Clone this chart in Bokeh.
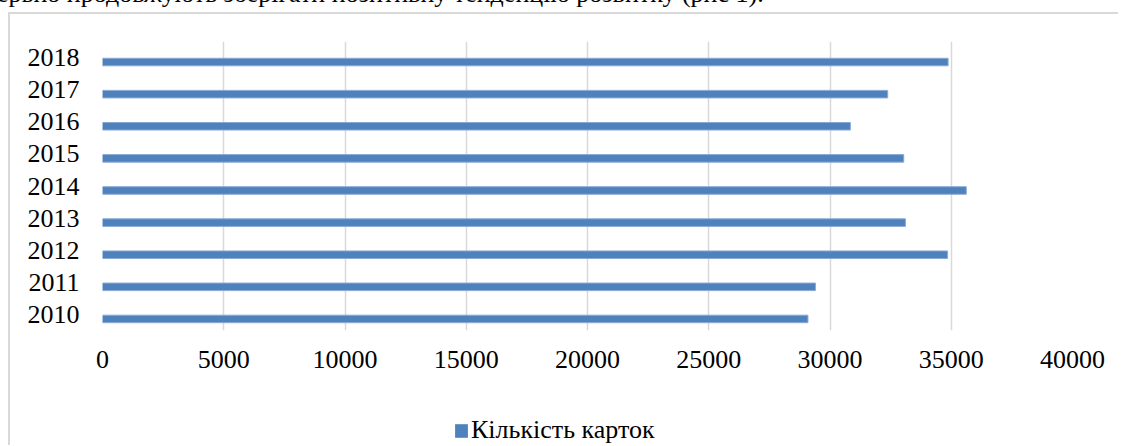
from bokeh.plotting import figure
from bokeh.layouts import column
from bokeh.models import (ColumnDataSource, Legend, LegendItem, FactorRange, Div,
                          Range1d, FixedTicker, NumeralTickFormatter)
from bokeh.transform import dodge
from bokeh.embed import file_html
from bokeh.resources import INLINE

# ---- data ----
years = ["2010", "2011", "2012", "2013", "2014", "2015", "2016", "2017", "2018"]
cards = [29090, 29400, 34850, 33110, 35620, 33040, 30840, 32380, 34870]
x_ticks = [0, 5000, 10000, 15000, 20000, 25000, 30000, 35000, 40000]
series_name = "Кількість карток"
intro_text = "ерьно продовжують зберігати позитивну тенденцію розвитку (рис 1)."

FONT = "Liberation Serif"
BAR = "#4f81bd"
BAR_EDGE = "#8aaad4"
GRID = "#d9d9d9"
W = 1118

# clipped line of the surrounding document text (only its lower part is visible)
top_div = Div(
    text=('<div style="font-family:\'Liberation Serif\';font-size:26px;line-height:30px;'
          'white-space:nowrap;position:relative;top:-21px;left:-3px;color:#000;">'
          + intro_text + '</div>'),
    width=W, height=12, margin=(0, 0, 0, 0),
    styles={"overflow": "hidden", "height": "12px"},
)

src = ColumnDataSource(data=dict(year=years, cards=cards))

p = figure(width=W, height=371,
           y_range=FactorRange(*years), x_range=Range1d(0, 40000),
           output_backend="svg", toolbar_location=None,
           min_border_left=102, min_border_right=W - 102 - 970,
           min_border_top=29, min_border_bottom=53)
p.margin = (0, 0, 0, 0)
p.styles = {
    "background": ("linear-gradient(#d9d9d9,#d9d9d9) 8px 0px / 2px 100% no-repeat, "
                   "linear-gradient(#d9d9d9,#d9d9d9) 8px 0px / 100% 2px no-repeat, #ffffff"),
}
p.border_fill_color = None
p.background_fill_color = None
p.outline_line_color = None

r = p.hbar(y=dodge("year", -0.14, range=p.y_range), left=0, right="cards",
           height=0.235, source=src, fill_color=BAR, line_color=BAR_EDGE, line_width=1)

# axes
p.xaxis.ticker = FixedTicker(ticks=x_ticks)
p.xaxis.formatter = NumeralTickFormatter(format="0")
for ax in (p.xaxis[0], p.yaxis[0]):
    ax.axis_line_color = None
    ax.major_tick_line_color = None
    ax.minor_tick_line_color = None
    ax.major_tick_out = 0
    ax.major_tick_in = 0
    ax.major_label_text_font = FONT
    ax.major_label_text_font_size = "26px"
    ax.major_label_text_color = "#000000"
p.xaxis.major_label_standoff = 20
p.yaxis.major_label_standoff = 23

p.ygrid.grid_line_color = None
p.xgrid.grid_line_color = GRID
p.xgrid.grid_line_width = 1.5

# legend strip under the chart (same series, drawn with zero thickness outside the view)
lf = figure(width=W, height=62, x_range=Range1d(-80000, -40000), y_range=FactorRange(*years),
            x_axis_location=None, y_axis_location=None,
            output_backend="svg", toolbar_location=None, min_border=0)
lf.margin = (0, 0, 0, 0)
lf.styles = {
    "background": ("linear-gradient(#d9d9d9,#d9d9d9) 8px 0px / 2px 100% no-repeat, #ffffff"),
}
lf.border_fill_color = None
lf.background_fill_color = None
lf.outline_line_color = None
lf.grid.visible = False
r_leg = lf.hbar(y="year", left=0, right="cards", height=0, source=src,
                fill_color=BAR, line_color=None)

legend = Legend(items=[LegendItem(label=series_name, renderers=[r_leg])],
                location=(351, 0), orientation="horizontal",
                glyph_width=16, glyph_height=17, label_standoff=2,
                padding=0, margin=0, border_line_color=None,
                background_fill_alpha=0,
                label_text_font=FONT, label_text_font_size="26px",
                label_text_color="#000000")
lf.add_layout(legend)

layout = column(top_div, p, lf, spacing=0)
open("out.html", "w").write(file_html(layout, INLINE))
